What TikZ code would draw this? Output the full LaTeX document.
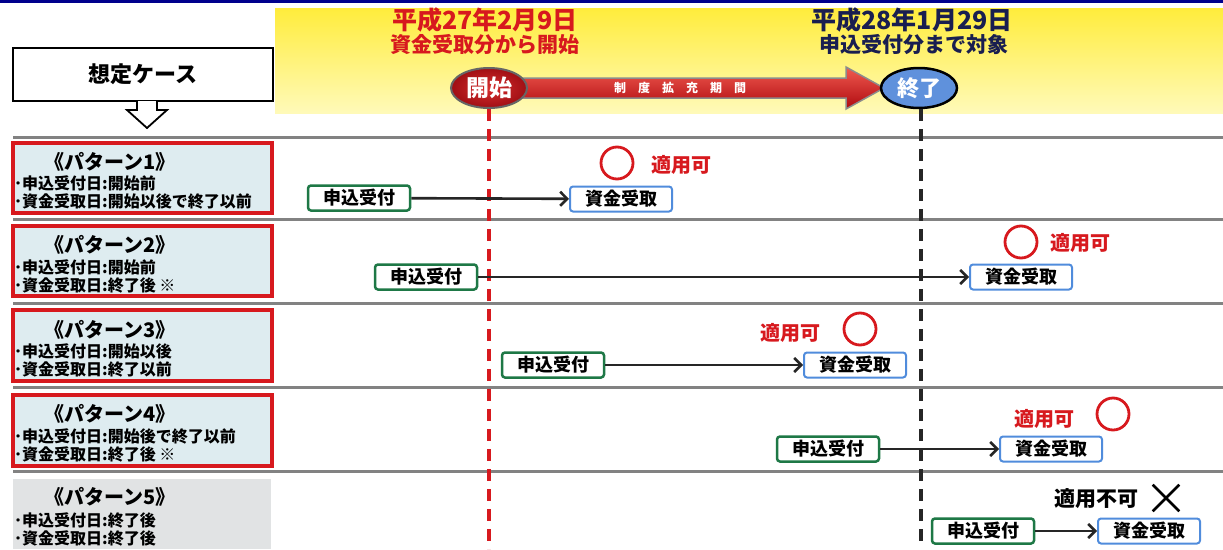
\documentclass[tikz,border=0pt]{standalone}
\usepackage{fontspec}
\newfontfamily\jp{Noto Sans CJK JP}
\usetikzlibrary{arrows.meta,shapes.geometric,shapes.misc}
\definecolor{jred}{RGB}{215,25,30}
\definecolor{jnavy}{RGB}{25,30,80}
\definecolor{jgreen}{RGB}{30,120,70}
\definecolor{jblue}{RGB}{80,140,220}
\definecolor{patfill}{RGB}{222,236,240}
\definecolor{pat5fill}{RGB}{225,227,228}
\definecolor{sepgray}{RGB}{130,130,130}
\tikzset{
  fs/.style={font=\jp\bfseries\fontsize{#1}{#1}\selectfont},
  sepline/.style={draw=sepgray,line width=3pt},
  patbox/.style={draw=jred,line width=3.5pt,fill=patfill},
  pattitle/.style={fs=20,inner sep=0pt},
  patline/.style={fs=16,inner sep=0pt,anchor=west},
  ubox/.style={draw=jgreen,line width=2.5pt,rounded corners=3pt,fill=white,fs=18,minimum width=102pt,minimum height=25pt,inner sep=0pt},
  sbox/.style={draw=jblue,line width=2pt,rounded corners=3pt,fill=white,fs=18,minimum width=102pt,minimum height=25pt,inner sep=0pt},
  okcircle/.style={draw=jred,line width=2.8pt,circle,minimum size=32pt,inner sep=0pt},
  oktext/.style={fs=20,text=jred,inner sep=0pt},
  flow/.style={draw=black!85,line width=2.6pt,-{Straight Barb[length=7pt,width=14pt,line width=2.6pt]}},
  reddash/.style={draw=jred,line width=3.5pt,dash pattern=on 12pt off 8pt},
  blkdash/.style={draw=black!85,line width=3.5pt,dash pattern=on 12pt off 8pt},
}
\begin{document}
\begin{tikzpicture}[x=1pt,y=-1pt]
\useasboundingbox (0,0) rectangle (1223,549);
\fill[white] (0,0) rectangle (1223,549);
% top band
\fill[blue!55!black] (0,0) rectangle (1223,3);
\shade[top color={rgb,255:red,255;green,236;blue,60},bottom color={rgb,255:red,255;green,250;blue,185}] (275,8) rectangle (1223,113);
% case box
\node[draw=black,line width=2pt,fill=white,minimum width=260pt,minimum height=53pt,fs=22,inner sep=0pt] (case) at (143,74) {想定ケース};
\draw[line width=1.8pt,fill=white] (137,101) -- (137,110) -- (127,110) -- (147,128) -- (167,110) -- (157,110) -- (157,101);
% separators
\foreach \yy in {137,219,303,387,471} \draw[sepline] (13,\yy) -- (1223,\yy);
% period arrow
\shade[top color={rgb,255:red,240;green,90;blue,80},bottom color={rgb,255:red,175;green,10;blue,15},draw=black!45,line width=1.5pt]
  (505,78) -- (846,78) -- (846,67) -- (884,88) -- (846,109) -- (846,98) -- (505,98) -- cycle;
\node[fs=12,text=white] (period) at (680,88) {制\quad 度\quad 拡\quad 充\quad 期\quad 間};
% start / end
\node[ellipse,minimum width=76pt,minimum height=40pt,inner sep=0pt,draw=black!60,line width=2pt,
  inner color={rgb,255:red,215;green,45;blue,45},outer color={rgb,255:red,160;green,15;blue,20},text=white,fs=23] (kaishi) at (489,88) {開始};
\node[ellipse,minimum width=76pt,minimum height=40pt,inner sep=0pt,draw=black,line width=2.5pt,
  fill={rgb,255:red,95;green,145;blue,220},text=white,fs=22] (shuryo) at (919,88) {終了};
\node[fs=25,text=jred,inner sep=0pt] (d1a) at (485,20) {平成27年2月9日};
\node[fs=21,text=jred,inner sep=0pt] (d1b) at (485,45) {資金受取分から開始};
\node[fs=25,text=jnavy,inner sep=0pt] (d2a) at (912,20) {平成28年1月29日};
\node[fs=21,text=jnavy,inner sep=0pt] (d2b) at (914,45) {申込受付分まで対象};
\coordinate (kb) at (489,549);
\coordinate (sb) at (921,549);
\draw[reddash] (kaishi.south) -- (kb);
\draw[blkdash] (shuryo.south -| sb) -- (sb);
% pattern boxes
\draw[patbox] (13,143) rectangle (272,213);
\draw[patbox] (13,226) rectangle (272,296);
\draw[patbox] (13,310) rectangle (272,381);
\draw[patbox] (13,395) rectangle (272,466);
\fill[pat5fill] (13,479) rectangle (271,549);
\node[pattitle] (t1) at (110,162) {《パターン1》};
\node[patline] (a1) at (14,183) {･申込受付日:開始前};
\node[patline] (b1) at (14,201) {･資金受取日:開始以後で終了以前};
\node[pattitle] (t2) at (110,245) {《パターン2》};
\node[patline] (a2) at (14,267) {･申込受付日:開始前};
\node[patline] (b2) at (14,285) {･資金受取日:終了後 ※};
\node[pattitle] (t3) at (110,330) {《パターン3》};
\node[patline] (a3) at (14,351) {･申込受付日:開始以後};
\node[patline] (b3) at (14,369) {･資金受取日:終了以前};
\node[pattitle] (t4) at (110,414) {《パターン4》};
\node[patline] (a4) at (14,436) {･申込受付日:開始後で終了以前};
\node[patline] (b4) at (14,454) {･資金受取日:終了後 ※};
\node[pattitle] (t5) at (110,497) {《パターン5》};
\node[patline] (a5) at (14,520) {･申込受付日:終了後};
\node[patline] (b5) at (14,538) {･資金受取日:終了後};
% rows
\node[ubox] (u1) at (359,198) {申込受付};
\node[sbox] (s1) at (621,199) {資金受取};
\draw[flow] (u1) -- (s1);
\node[okcircle] (c1) at (617,163) {};
\node[oktext] (k1) at (681,165) {適用可};
\node[ubox] (u2) at (426,277) {申込受付};
\node[sbox] (s2) at (1021,277) {資金受取};
\draw[flow] (u2) -- (s2);
\node[okcircle] (c2) at (1021,242) {};
\node[oktext] (k2) at (1080,243) {適用可};
\node[ubox] (u3) at (553,365) {申込受付};
\node[sbox] (s3) at (855,365) {資金受取};
\draw[flow] (u3) -- (s3);
\node[oktext] (k3) at (790,333) {適用可};
\node[okcircle] (c3) at (860,329) {};
\node[ubox] (u4) at (828,449) {申込受付};
\node[sbox] (s4) at (1051,449) {資金受取};
\draw[flow] (u4) -- (s4);
\node[oktext] (k4) at (1044,419) {適用可};
\node[okcircle] (c4) at (1113,414) {};
\node[ubox] (u5) at (983,531) {申込受付};
\node[sbox] (s5) at (1149,531) {資金受取};
\draw[flow] (u5) -- (s5);
\node[fs=21,inner sep=0pt] (k5) at (1096,499) {適用不可};
\node[cross out,draw=black,line width=2.6pt,minimum size=24pt,inner sep=0pt] (x5) at (1166,498) {};
\end{tikzpicture}
\end{document}
